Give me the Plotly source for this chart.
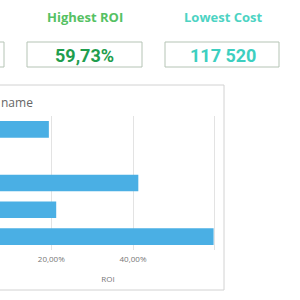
import plotly.graph_objects as go

# Data
campaigns = ["Campaign 1", "Campaign 2", "Campaign 3", "Campaign 4", "Campaign 5"]
roi = [0.194, 0.045, 0.413, 0.212, 0.5973]
tick_vals = [0.2, 0.4, 0.6]
tick_text = ["20,00%", "40,00%", ""]
kpi_labels = ["Highest ROI", "Lowest Cost"]
kpi_values = ["59,73%", "117 520"]

W, H = 300, 300
def px(x): return x / W
def py(y): return 1 - y / H

fig = go.Figure()
fig.add_trace(go.Bar(
    y=campaigns, x=roi, orientation="h",
    marker=dict(color="#4AAFE4", line=dict(width=0)),
    hoverinfo="skip",
))

x_left_val = 0.0744
px_per_unit = 81.7 / 0.2
dom_right = 216
fig.update_layout(
    width=W, height=H,
    margin=dict(l=0, r=0, t=0, b=0),
    paper_bgcolor="white", plot_bgcolor="white",
    separators=", ",
    showlegend=False,
    bargap=0.38,
    font=dict(family="Open Sans, sans-serif", color="#666666"),
    xaxis=dict(
        domain=[0, px(dom_right)],
        range=[x_left_val, x_left_val + dom_right / px_per_unit],
        tickvals=tick_vals, ticktext=tick_text,
        showgrid=True, gridcolor="#E3E3E3", gridwidth=1,
        zeroline=False, showline=False, ticks="",
        ticklabelstandoff=3,
        tickfont=dict(size=8, color="#777777"),
        title=dict(text="ROI", font=dict(size=8, color="#777777"), standoff=13),
    ),
    yaxis=dict(
        domain=[py(250), py(116)],
        autorange="reversed",
        showticklabels=False, showgrid=False, zeroline=False, ticks="",
    ),
)

shapes = []
# KPI boxes
for (x0, x1) in [(-20, 4), (27, 142), (165, 279)]:
    shapes.append(dict(type="rect", xref="paper", yref="paper",
                       x0=px(x0), x1=px(x1), y0=py(67), y1=py(42),
                       line=dict(color="#B5C4B5", width=1), fillcolor="white", layer="below"))
# chart panel
shapes.append(dict(type="rect", xref="paper", yref="paper",
                   x0=px(-5), x1=px(224), y0=py(290), y1=py(85),
                   line=dict(color="#D2D2D2", width=1), fillcolor="rgba(0,0,0,0)", layer="below"))
fig.update_layout(shapes=shapes)

label_colors = ["#55C163", "#4DD3C3"]
value_colors = ["#1F9E4E", "#3DCFC0"]
centers = [84.5, 222.5]
for i in range(2):
    fig.add_annotation(x=px(centers[i]), y=py(17), xref="paper", yref="paper",
                       text="<b>" + kpi_labels[i] + "</b>", showarrow=False,
                       font=dict(size=13, color=label_colors[i], family="Open Sans, sans-serif"),
                       xanchor="center", yanchor="middle")
    fig.add_annotation(x=px(centers[i]), y=py(55), xref="paper", yref="paper",
                       text="<b>" + kpi_values[i] + "</b>", showarrow=False,
                       font=dict(size=18, color=value_colors[i], family="Roboto, sans-serif"),
                       xanchor="center", yanchor="middle")

fig.add_annotation(x=0, y=py(102), xref="paper", yref="paper",
                   text="name", showarrow=False, xanchor="left", yanchor="middle",
                   borderpad=0,
                   font=dict(size=12, color="#666666", family="Open Sans, sans-serif"))

fig.write_html("out.html")
